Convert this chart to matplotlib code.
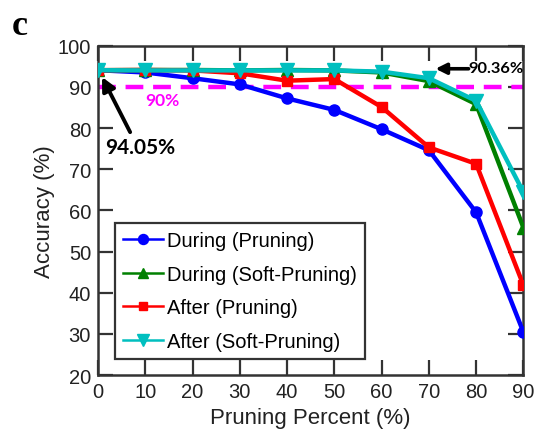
import matplotlib
matplotlib.use("Agg")
import matplotlib.pyplot as plt

# Pruning percent levels
pruning_pct = [0, 10, 20, 30, 40, 50, 60, 70, 80, 90]

# Accuracy (%) for each method
during_pruning = [94.05, 93.5, 92.1, 90.6, 87.2, 84.4, 79.7, 74.6, 59.5, 30.4]
during_soft = [94.05, 94.1, 94.1, 94.0, 94.1, 94.0, 93.5, 91.4, 85.8, 55.8]
after_pruning = [94.05, 94.1, 94.0, 93.3, 91.5, 91.9, 85.1, 75.3, 71.3, 41.8]
after_soft = [94.05, 94.0, 94.0, 94.0, 94.0, 94.0, 93.7, 92.1, 86.6, 64.4]

labels = ["During (Pruning)", "During (Soft-Pruning)", "After (Pruning)", "After (Soft-Pruning)"]
x_ticks = [0, 10, 20, 30, 40, 50, 60, 70, 80, 90]
y_ticks = [20, 30, 40, 50, 60, 70, 80, 90, 100]
threshold = 90
start_acc = 94.05
soft_at_70 = 90.36

plt.rcParams['font.family'] = ['Liberation Sans', 'DejaVu Sans']
note_font = ['Lato', 'DejaVu Sans']

fig = plt.figure(figsize=(5.39, 4.39), dpi=100)
ax = fig.add_axes([0.1818, 0.1435, 0.7893, 0.7501])

spine_col = '#333333'
lw = 3.2
ax.plot(pruning_pct, during_pruning, '-o', color='#0000ff', lw=lw, ms=8, label=labels[0], zorder=3)
ax.plot(pruning_pct, during_soft, '-^', color='#008000', lw=lw, ms=8.5, label=labels[1], zorder=3)
ax.plot(pruning_pct, after_pruning, '-s', color='#ff0000', lw=lw, ms=6.5, label=labels[2], zorder=4)
ax.plot(pruning_pct, after_soft, '-v', color='#00bfbf', lw=lw, ms=10, label=labels[3], zorder=5)

# 90% reference line
ax.plot([pruning_pct[0], pruning_pct[-1]], [threshold, threshold], color='#ff00ff',
        lw=3.2, dashes=(4, 2.2), zorder=2)
ax.text(13.6, 86.9, f"{threshold}%", color='#ff00ff', fontsize=12.5, fontweight='bold',
        family=note_font, ha='center', va='center')

# starting accuracy callout
ax.text(8.9, 75.4, f"{start_acc}%", fontsize=15, fontweight='bold',
        family=note_font, ha='center', va='center', zorder=6)
ax.annotate("", xy=(0.85, 92.4), xytext=(6.8, 79.0),
            arrowprops=dict(arrowstyle='-|>', color='black', lw=2.8, mutation_scale=20,
                            shrinkA=0, shrinkB=0), zorder=6)

# soft-pruning callout at 70%
ax.text(78.3, 94.6, f"{soft_at_70}%", fontsize=11.8, fontweight='bold',
        family=note_font, ha='left', va='center', zorder=6)
ax.annotate("", xy=(71.4, 94.4), xytext=(78.4, 94.4),
            arrowprops=dict(arrowstyle='-|>', color='black', lw=2.6, mutation_scale=16,
                            shrinkA=0, shrinkB=0), zorder=6)

ax.set_xlim(0, 90)
ax.set_ylim(20, 100)
ax.set_xticks(x_ticks)
ax.set_yticks(y_ticks)
ax.tick_params(direction='in', length=10.5, width=1.6, color=spine_col,
               top=True, right=True, labelsize=14.5, labelcolor='#222222', pad=5)
for s in ax.spines.values():
    s.set_linewidth(1.8)
    s.set_color(spine_col)
ax.set_xlabel("Pruning Percent (%)", fontsize=16, color='#222222', labelpad=4)
ax.set_ylabel("Accuracy (%)", fontsize=16, color='#222222', labelpad=2)

leg = ax.legend(loc='lower left', bbox_to_anchor=(0.04, 0.0486), fontsize=14.5,
                frameon=True, fancybox=False, edgecolor=spine_col, framealpha=1,
                handlelength=2.0, handletextpad=0.2, labelspacing=0.72, borderpad=0.4,
                borderaxespad=0, markerscale=0.9)
leg.get_frame().set_linewidth(1.6)
for h in leg.legend_handles:
    h.set_linewidth(1.8)

fig.text(0.022, 0.94, "c", fontsize=26, fontweight='bold',
         family=['Liberation Serif', 'DejaVu Serif'], ha='left', va='center')

fig.savefig("out.png", dpi=100)
